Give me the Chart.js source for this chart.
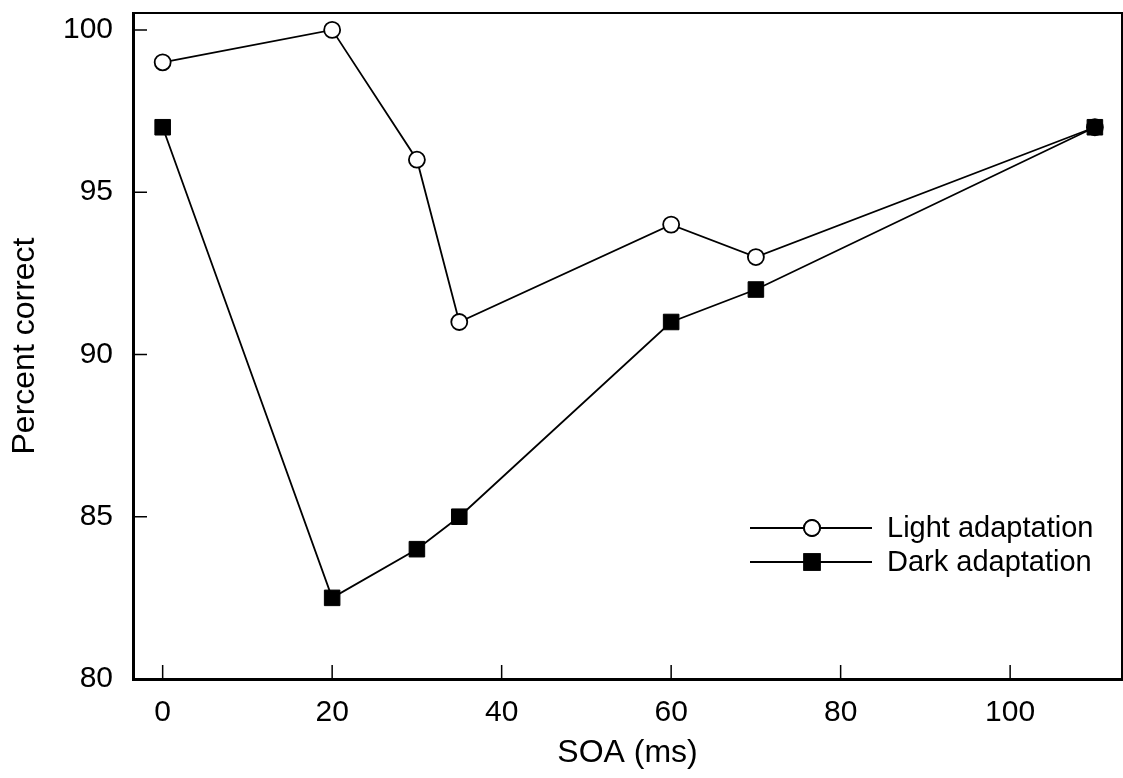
<!DOCTYPE html>
<html>
<head>
<meta charset="utf-8">
<script src="https://cdn.jsdelivr.net/npm/chart.js@4/dist/chart.umd.min.js"></script>
<style>
  body { margin: 0; background: #fff; }
  #wrap { width: 1123px; height: 778px; }
</style>
</head>
<body>
<div id="wrap"><canvas id="soaChart"></canvas></div>
<script>
const soa = [0, 20, 30, 35, 60, 70, 110];
const lightAdaptation = [99, 100, 96, 91, 94, 93, 97];
const darkAdaptation = [97, 82.5, 84, 85, 91, 92, 97];
const xTicks = [0, 20, 40, 60, 80, 100];
const yTicks = [80, 85, 90, 95, 100];
const seriesNames = ['Light adaptation', 'Dark adaptation'];

const FONT = "'Liberation Sans', Arial, sans-serif";

function toPoints(xs, ys) {
    return xs.map((x, i) => ({x: x, y: ys[i]}));
}

function noPad(s) {
    s.paddingLeft = 0;
    s.paddingRight = 0;
    s.paddingTop = 0;
    s.paddingBottom = 0;
}

// inward tick marks + top/right frame + legend inside the plot
const extras = {
    id: 'extras',
    beforeDatasetsDraw(chart) {
        const ctx = chart.ctx;
        const a = chart.chartArea;
        const xs = chart.scales.x, ys = chart.scales.y;
        ctx.save();
        ctx.strokeStyle = '#000';
        ctx.lineWidth = 1.5;
        ctx.beginPath();
        xTicks.forEach(v => {
            const px = xs.getPixelForValue(v);
            ctx.moveTo(px, a.bottom);
            ctx.lineTo(px, a.bottom - 14);
        });
        yTicks.forEach(v => {
            const py = ys.getPixelForValue(v);
            ctx.moveTo(a.left, py);
            ctx.lineTo(a.left + 14, py);
        });
        ctx.stroke();
        ctx.lineWidth = 2;
        ctx.beginPath();
        ctx.moveTo(a.left, a.top);
        ctx.lineTo(a.right, a.top);
        ctx.lineTo(a.right, a.bottom);
        ctx.stroke();
        ctx.restore();
    },
    afterDraw(chart) {
        const ctx = chart.ctx;
        const rows = [528, 562];
        ctx.save();
        ctx.strokeStyle = '#000';
        ctx.lineWidth = 1.8;
        rows.forEach((y, i) => {
            ctx.beginPath();
            ctx.moveTo(750, y);
            ctx.lineTo(872, y);
            ctx.stroke();
            const ds = chart.data.datasets[i];
            Chart.helpers.drawPoint(ctx, {
                pointStyle: ds.pointStyle,
                radius: ds.pointRadius,
                borderWidth: ds.pointBorderWidth
            }, 812, y);
            ctx.fillStyle = ds.pointBackgroundColor;
            ctx.fill();
            ctx.stroke();
            ctx.fillStyle = '#000';
            ctx.font = '29px ' + FONT;
            ctx.textAlign = 'left';
            ctx.textBaseline = 'middle';
            ctx.fillText(seriesNames[i], 887, y + 1);
        });
        ctx.restore();
    }
};

new Chart(document.getElementById('soaChart'), {
    type: 'line',
    data: {
        datasets: [{
            label: seriesNames[0],
            data: toPoints(soa, lightAdaptation),
            order: 1,
            borderColor: '#000',
            borderWidth: 1.8,
            pointStyle: 'circle',
            pointRadius: 8,
            pointBorderWidth: 1.8,
            pointBackgroundColor: '#fff',
            pointBorderColor: '#000',
            clip: false
        }, {
            label: seriesNames[1],
            data: toPoints(soa, darkAdaptation),
            order: 0,
            borderColor: '#000',
            borderWidth: 1.8,
            pointStyle: 'rect',
            pointRadius: 11,
            pointBorderWidth: 1,
            pointBackgroundColor: '#000',
            pointBorderColor: '#000',
            clip: false
        }]
    },
    options: {
        responsive: true,
        maintainAspectRatio: false,
        animation: false,
        layout: { autoPadding: false, padding: { top: 13, right: 1, left: 0, bottom: 0 } },
        plugins: {
            legend: { display: false },
            tooltip: { enabled: false }
        },
        scales: {
            x: {
                type: 'linear',
                min: -3.5,
                max: 113.2,
                afterBuildTicks: s => { s.ticks = xTicks.map(v => ({value: v})); },
                afterFit: s => { s.height = 99; noPad(s); },
                grid: { display: false, drawTicks: false },
                border: { display: true, color: '#000', width: 3 },
                ticks: {
                    color: '#000',
                    padding: 16,
                    maxRotation: 0,
                    font: { family: FONT, size: 30 }
                },
                title: {
                    display: true,
                    text: 'SOA (ms)',
                    color: '#000',
                    padding: { top: 0, bottom: 6 },
                    font: { family: FONT, size: 32 }
                }
            },
            y: {
                type: 'linear',
                min: 80,
                max: 100.52,
                afterBuildTicks: s => { s.ticks = yTicks.map(v => ({value: v})); },
                afterFit: s => { s.width = 133; noPad(s); },
                grid: { display: false, drawTicks: false },
                border: { display: true, color: '#000', width: 3 },
                ticks: {
                    color: '#000',
                    padding: 20,
                    font: { family: FONT, size: 30 }
                },
                title: {
                    display: true,
                    text: 'Percent correct',
                    color: '#000',
                    padding: { top: 6, bottom: 0 },
                    font: { family: FONT, size: 32 }
                }
            }
        }
    },
    plugins: [extras]
});
</script>
</body>
</html>
